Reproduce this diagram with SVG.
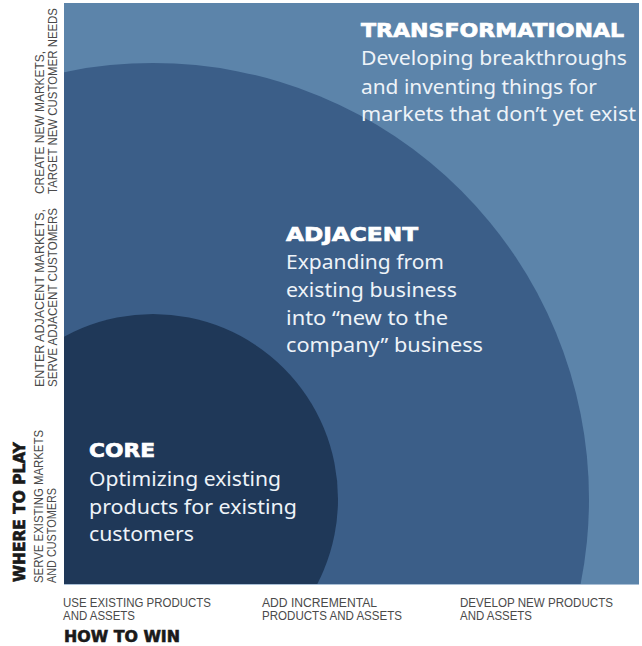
<svg xmlns="http://www.w3.org/2000/svg" width="642" height="646" viewBox="0 0 642 646">
<defs>
<style>
.head{font-family:"DejaVu Sans","Liberation Sans",sans-serif;font-weight:bold;font-size:20px;fill:#ffffff;stroke:#ffffff;stroke-width:0.7px}
.body{font-family:"Noto Sans","Open Sans",sans-serif;font-size:19.5px;fill:#eef3f8}
.axis{font-family:"Liberation Sans",Arial,sans-serif;font-size:12px;fill:#4a4a4a}
.axishead{font-family:"DejaVu Sans","Liberation Sans",sans-serif;font-weight:bold;font-size:15px;fill:#1a1a1a;stroke:#1a1a1a;stroke-width:0.6px}
</style>
<clipPath id="sq"><rect x="64" y="3" width="575" height="581"/></clipPath>
</defs>
<rect width="642" height="646" fill="#ffffff"/>
<g id="transformational">
<rect x="64" y="3" width="575" height="581" fill="#5c84aa"/>
<line x1="64" y1="584.5" x2="639" y2="584.5" stroke="#a9bfd6" stroke-width="1"/>
</g>
<g id="adjacent" clip-path="url(#sq)">
<circle cx="153" cy="499" r="436" fill="#3b5e88"/>
</g>
<g id="core" clip-path="url(#sq)">
<circle cx="153" cy="499" r="185" fill="#1f3858"/>
</g>
<g id="connectors"></g>
<g id="labels-transformational">
<text class="head" x="361" y="37" textLength="263" lengthAdjust="spacingAndGlyphs">TRANSFORMATIONAL</text>
<text class="body" x="361" y="65" textLength="266" lengthAdjust="spacingAndGlyphs">Developing breakthroughs</text>
<text class="body" x="361" y="94" textLength="236" lengthAdjust="spacingAndGlyphs">and inventing things for</text>
<text class="body" x="361" y="121" textLength="275" lengthAdjust="spacingAndGlyphs">markets that don’t yet exist</text>
</g>
<g id="labels-adjacent">
<text class="head" x="286" y="241" textLength="132" lengthAdjust="spacingAndGlyphs">ADJACENT</text>
<text class="body" x="286" y="269" textLength="158" lengthAdjust="spacingAndGlyphs">Expanding from</text>
<text class="body" x="286" y="297" textLength="171" lengthAdjust="spacingAndGlyphs">existing business</text>
<text class="body" x="286" y="325" textLength="162" lengthAdjust="spacingAndGlyphs">into “new to the</text>
<text class="body" x="286" y="352" textLength="197" lengthAdjust="spacingAndGlyphs">company” business</text>
</g>
<g id="labels-core">
<text class="head" x="89" y="457" textLength="66" lengthAdjust="spacingAndGlyphs">CORE</text>
<text class="body" x="89" y="486" textLength="192" lengthAdjust="spacingAndGlyphs">Optimizing existing</text>
<text class="body" x="89" y="514" textLength="208" lengthAdjust="spacingAndGlyphs">products for existing</text>
<text class="body" x="89" y="541" textLength="105" lengthAdjust="spacingAndGlyphs">customers</text>
</g>
<g id="x-axis">
<text class="axis" x="63" y="607" textLength="148" lengthAdjust="spacingAndGlyphs">USE EXISTING PRODUCTS</text>
<text class="axis" x="63" y="620" textLength="72" lengthAdjust="spacingAndGlyphs">AND ASSETS</text>
<text class="axis" x="262" y="607" textLength="115" lengthAdjust="spacingAndGlyphs">ADD INCREMENTAL</text>
<text class="axis" x="262" y="620" textLength="140" lengthAdjust="spacingAndGlyphs">PRODUCTS AND ASSETS</text>
<text class="axis" x="460" y="607" textLength="153" lengthAdjust="spacingAndGlyphs">DEVELOP NEW PRODUCTS</text>
<text class="axis" x="460" y="620" textLength="72" lengthAdjust="spacingAndGlyphs">AND ASSETS</text>
<text class="axishead" x="64" y="642" textLength="116" lengthAdjust="spacingAndGlyphs">HOW TO WIN</text>
</g>
<g id="y-axis">
<text class="axis" transform="translate(44 194) rotate(-90)" textLength="143" lengthAdjust="spacingAndGlyphs">CREATE NEW MARKETS,</text>
<text class="axis" transform="translate(57 194) rotate(-90)" textLength="186" lengthAdjust="spacingAndGlyphs">TARGET NEW CUSTOMER NEEDS</text>
<text class="axis" transform="translate(44 387) rotate(-90)" textLength="178" lengthAdjust="spacingAndGlyphs">ENTER ADJACENT MARKETS,</text>
<text class="axis" transform="translate(57 387) rotate(-90)" textLength="179" lengthAdjust="spacingAndGlyphs">SERVE ADJACENT CUSTOMERS</text>
<text class="axis" transform="translate(43 583) rotate(-90)" textLength="153" lengthAdjust="spacingAndGlyphs">SERVE EXISTING MARKETS</text>
<text class="axis" transform="translate(56 583) rotate(-90)" textLength="95" lengthAdjust="spacingAndGlyphs">AND CUSTOMERS</text>
<text class="axishead" transform="translate(25 582) rotate(-90)" textLength="140" lengthAdjust="spacingAndGlyphs">WHERE TO PLAY</text>
</g>
</svg>
